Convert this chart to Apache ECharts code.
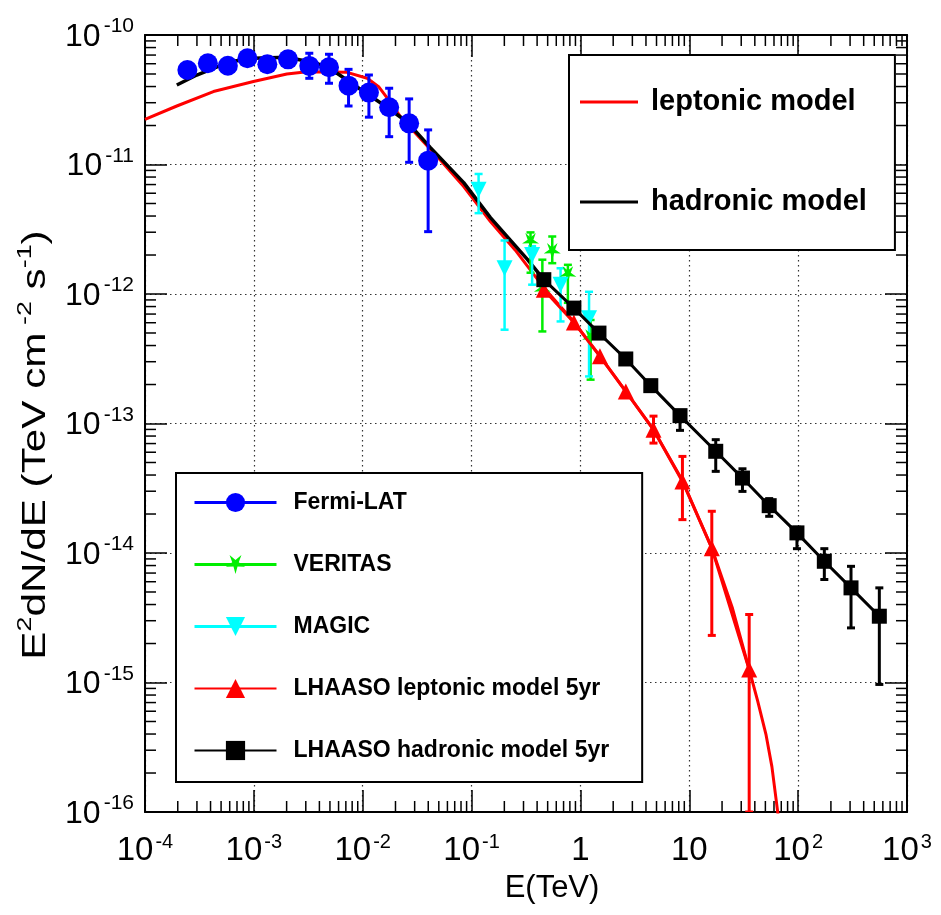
<!DOCTYPE html>
<html><head><meta charset="utf-8">
<script src="https://cdn.jsdelivr.net/npm/echarts/dist/echarts.min.js"></script>
<style>html,body{margin:0;padding:0;background:#fff}#c{width:941px;height:915px}</style>
</head><body><div id="c"></div>
<script>
// ---------------- data (E in TeV, E^2 dN/dE in TeV cm^-2 s^-1) ----------------
const fermiE  = [2.45e-4, 3.78e-4, 5.77e-4, 8.73e-4, 1.33e-3, 2.06e-3, 3.23e-3, 4.90e-3, 7.41e-3, 1.14e-2, 1.75e-2, 2.67e-2, 3.99e-2];
const fermiF  = [5.37e-11, 6.05e-11, 5.79e-11, 6.61e-11, 5.94e-11, 6.49e-11, 5.77e-11, 5.64e-11, 4.06e-11, 3.59e-11, 2.77e-11, 2.08e-11, 1.07e-11];
const fermiLo = [null, null, null, null, null, null, 4.63e-11, 4.24e-11, 2.83e-11, 2.32e-11, 1.64e-11, 1.04e-11, 3.03e-12];
const fermiHi = [null, null, null, null, null, null, 7.23e-11, 7.10e-11, 5.43e-11, 4.91e-11, 3.88e-11, 3.21e-11, 1.85e-11];

const veritasE  = [0.348, 0.447, 0.551, 0.767, 1.24];
const veritasF  = [2.54e-12, 1.08e-12, 2.13e-12, 1.41e-12, 4.6e-13];
const veritasLo = [1.46e-12, 5.14e-13, 1.73e-12, 8.55e-13, 2.18e-13];
const veritasHi = [2.99e-12, 1.84e-12, 2.78e-12, 1.68e-12, 6.3e-13];

const magicE  = [0.116, 0.201, 0.360, 0.657, 1.20];
const magicF  = [6.37e-12, 1.58e-12, 2.0e-12, 1.18e-12, 6.51e-13];
const magicLo = [4.21e-12, 5.30e-13, 1.18e-12, 6.14e-13, 2.31e-13];
const magicHi = [8.45e-12, 2.59e-12, 2.34e-12, 1.58e-12, 1.04e-12];

const lepE  = [0.461, 0.871, 1.51, 2.61, 4.69, 8.65, 16.1, 35.5];
const lepF  = [1.08e-12, 6.03e-13, 3.30e-13, 1.77e-13, 8.95e-14, 3.57e-14, 1.09e-14, 1.26e-15];
const lepLo = [null, null, null, null, 7.06e-14, 1.81e-14, 2.31e-15, 1.0e-16];
const lepHi = [null, null, null, null, 1.14e-13, 5.57e-14, 2.10e-14, 3.35e-15];

const hadE  = [0.461, 0.871, 1.48, 2.61, 4.43, 8.22, 17.5, 30.8, 54.2, 97.5, 174, 306, 557];
const hadF  = [1.29e-12, 7.78e-13, 4.99e-13, 3.15e-13, 1.96e-13, 1.15e-13, 6.10e-14, 3.79e-14, 2.32e-14, 1.43e-14, 8.63e-15, 5.38e-15, 3.25e-15];
const hadLo = [null, null, null, null, null, 8.85e-14, 4.27e-14, 2.99e-14, 1.92e-14, 1.08e-14, 6.24e-15, 2.64e-15, 9.66e-16];
const hadHi = [null, null, null, null, null, 1.26e-13, 7.50e-14, 4.47e-14, 2.63e-14, 1.58e-14, 1.08e-14, 7.89e-15, 5.38e-15];

const lepModelE = [1e-4, 1.96e-4, 4.25e-4, 9.91e-4, 2.01e-3, 3.08e-3, 7.18e-3, 1.10e-2, 1.40e-2, 1.73e-2, 2.22e-2, 3.16e-2, 5.18e-2, 8.47e-2, 0.149, 0.251, 0.461, 0.871, 1.514, 2.606, 4.69, 8.65, 16.1, 24.8, 35.5, 42.4, 50.6, 57.4, 64.7, 69.2];
const lepModelF = [2.23e-11, 2.83e-11, 3.66e-11, 4.37e-11, 5.00e-11, 5.21e-11, 5.15e-11, 4.63e-11, 3.99e-11, 3.15e-11, 2.34e-11, 1.69e-11, 1.08e-11, 6.76e-12, 3.63e-12, 2.19e-12, 1.12e-12, 6.10e-13, 3.31e-13, 1.77e-13, 8.95e-14, 3.63e-14, 1.09e-14, 3.80e-15, 1.26e-15, 7.24e-16, 3.98e-16, 2.24e-16, 1.02e-16, 6.3e-17];

const hadModelE = [1.96e-4, 2.99e-4, 6.05e-4, 9.91e-4, 2.01e-3, 3.80e-3, 5.81e-3, 1.02e-2, 1.56e-2, 2.55e-2, 4.19e-2, 8.47e-2, 0.149, 0.324, 0.461];
const hadModelF = [4.11e-11, 4.91e-11, 6.22e-11, 6.61e-11, 6.73e-11, 6.05e-11, 5.06e-11, 3.66e-11, 2.88e-11, 2.14e-11, 1.35e-11, 7.24e-12, 3.89e-12, 1.86e-12, 1.29e-12];

const legendNames = ['Fermi-LAT', 'VERITAS', 'MAGIC', 'LHAASO leptonic model 5yr', 'LHAASO hadronic model 5yr'];
const modelNames = ['leptonic model', 'hadronic model'];
const xTitle = 'E(TeV)';
const yTitle = 'E{s|2}dN/dE (TeV cm{s| -2} s{s|-1})';

// ---------------- helpers ----------------
const FONT = '"Liberation Sans", Arial, Helvetica, sans-serif';
const zip = (a, b) => a.map((v, i) => [v, b[i]]);
const errData = (e, lo, hi) => e.map((v, i) => [v, lo[i], hi[i]]).filter(d => d[1] != null && d[2] != null);

function errSeries(name, e, lo, hi, color, cap, lw) {
  return {
    type: 'custom', name: name, xAxisIndex: 0, yAxisIndex: 0, silent: true, z: 3, clip: true,
    data: errData(e, lo, hi), encode: { x: 0, y: [1, 2] },
    renderItem: function (params, api) {
      const x = api.value(0);
      const p1 = api.coord([x, api.value(2)]);
      const p2 = api.coord([x, api.value(1)]);
      const st = { stroke: color, lineWidth: lw };
      return { type: 'group', children: [
        { type: 'line', shape: { x1: p1[0], y1: p1[1], x2: p2[0], y2: p2[1] }, style: st },
        { type: 'line', shape: { x1: p1[0] - cap, y1: p1[1], x2: p1[0] + cap, y2: p1[1] }, style: st },
        { type: 'line', shape: { x1: p2[0] - cap, y1: p2[1], x2: p2[0] + cap, y2: p2[1] }, style: st }
      ] };
    }
  };
}

function powLabel(v) {
  const e = Math.round(Math.log10(v));
  if (e === 0) return '{b|1}';
  if (e === 1) return '{b|10}';
  return '{b|10}{s|' + e + '}';
}
const xRich = {
  b: { fontSize: 33, fontFamily: FONT, color: '#000', verticalAlign: 'bottom', lineHeight: 36 },
  s: { fontSize: 20, fontFamily: FONT, color: '#000', verticalAlign: 'bottom', lineHeight: 20, padding: [0, 0, 15, 2] }
};
const yRich = {
  b: { fontSize: 32, fontFamily: FONT, color: '#000', verticalAlign: 'bottom', lineHeight: 36 },
  s: { fontSize: 21, fontFamily: FONT, color: '#000', verticalAlign: 'bottom', lineHeight: 21, padding: [0, 0, 16, 3] }
};

// minor tick positions (axis decoration)
const minorX = [];
for (let n = -4; n < 3; n++) for (let k = 2; k < 10; k++) minorX.push([k * Math.pow(10, n), 1e-13]);
const minorY = [];
for (let n = -16; n < -10; n++) for (let k = 2; k < 10; k++) minorY.push([1e-2, k * Math.pow(10, n)]);
const TICK = { stroke: '#000', lineWidth: 1.5 };
const MINOR = 11;

const starPath = 'path://M50,100 L40,63.75 L2.45,65.45 L33.83,44.75 L20.6,9.55 L50,33 L79.4,9.55 L66.17,44.75 L97.55,65.45 L60,63.75 Z';

const chart = echarts.init(document.getElementById('c'), null, { renderer: 'canvas' });

const axisCommonX = {
  type: 'log', logBase: 10, min: 1e-4, max: 1e3, splitNumber: 7,
  axisLine: { show: true, onZero: false, lineStyle: { color: '#000', width: 2 } },
  axisTick: { show: true, inside: true, length: 22, lineStyle: { color: '#000', width: 1.5 } },
  minorTick: { show: false }, minorSplitLine: { show: false }
};
const axisCommonY = {
  type: 'log', logBase: 10, min: 1e-16, max: 1e-10, splitNumber: 6,
  axisLine: { show: true, onZero: false, lineStyle: { color: '#000', width: 2 } },
  axisTick: { show: true, inside: true, length: 22, lineStyle: { color: '#000', width: 1.5 } },
  minorTick: { show: false }, minorSplitLine: { show: false }
};
const gridDots = { show: true, lineStyle: { color: '#333', width: 1.2, type: [1.5, 3.5] } };

const option = {
  animation: false,
  backgroundColor: '#fff',
  grid: { left: 145, right: 34, top: 35, bottom: 103, containLabel: false, outerBoundsMode: 'none' },
  graphic: [{
    type: 'text', x: 36, y: 445, rotation: Math.PI / 2, scaleX: 1.28, silent: true,
    style: {
      text: yTitle, align: 'center', verticalAlign: 'middle',
      fontSize: 33, fontFamily: FONT, fill: '#000',
      rich: { s: { fontSize: 21, fontFamily: FONT, fill: '#000', verticalAlign: 'bottom', lineHeight: 21, padding: [0, 0, 17, 0] } }
    }
  }],
  xAxis: [
    Object.assign({}, axisCommonX, {
      position: 'bottom', splitLine: gridDots,
      axisLabel: { formatter: powLabel, margin: 19, rich: xRich, showMinLabel: true, showMaxLabel: true },
      name: xTitle, nameLocation: 'middle', nameGap: 61,
      nameTextStyle: { fontSize: 31, fontFamily: FONT, color: '#000', padding: [0, 0, 0, 52] }
    }),
    Object.assign({}, axisCommonX, { position: 'top', splitLine: { show: false }, axisLabel: { show: false } })
  ],
  yAxis: [
    Object.assign({}, axisCommonY, {
      position: 'left', splitLine: gridDots,
      axisLabel: { formatter: powLabel, margin: 11, rich: yRich, showMinLabel: true, showMaxLabel: true }
    }),
    Object.assign({}, axisCommonY, { position: 'right', splitLine: { show: false }, axisLabel: { show: false } })
  ],
  legend: [
    {
      orient: 'vertical', left: 176, top: 473, padding: [18, 33, 20, 17],
      itemWidth: 82, itemHeight: 24, itemGap: 39,
      borderColor: '#000', borderWidth: 2, backgroundColor: '#fff', selectedMode: false,
      textStyle: { fontSize: 23, fontWeight: 'bold', fontFamily: FONT, color: '#000', padding: [0, 0, 0, 12], lineHeight: 22 },
      data: [
        { name: legendNames[0], lineStyle: { width: 3, color: '#0000ff', opacity: 1 } },
        { name: legendNames[1], lineStyle: { width: 3, color: '#00ee00', opacity: 1 } },
        { name: legendNames[2], lineStyle: { width: 3, color: '#00ffff', opacity: 1 } },
        { name: legendNames[3] },
        { name: legendNames[4] }
      ]
    },
    {
      orient: 'vertical', left: 569, top: 55, padding: [32, 28, 33, 11],
      itemWidth: 58, itemHeight: 3, itemGap: 70, icon: 'rect',
      borderColor: '#000', borderWidth: 2, backgroundColor: '#fff', selectedMode: false,
      textStyle: { fontSize: 29, fontWeight: 'bold', fontFamily: FONT, color: '#000', padding: [0, 0, 0, 8], lineHeight: 30 },
      data: modelNames
    }
  ],
  series: [
    {
      type: 'custom', name: 'minorX', silent: true, z: 10, data: minorX, encode: { x: 0, y: 1 },
      renderItem: function (params, api) {
        const p = api.coord([api.value(0), api.value(1)]);
        const cs = params.coordSys;
        return { type: 'group', children: [
          { type: 'line', shape: { x1: p[0], y1: cs.y + cs.height, x2: p[0], y2: cs.y + cs.height - MINOR }, style: TICK },
          { type: 'line', shape: { x1: p[0], y1: cs.y, x2: p[0], y2: cs.y + MINOR }, style: TICK }
        ] };
      }
    },
    {
      type: 'custom', name: 'minorY', silent: true, z: 10, data: minorY, encode: { x: 0, y: 1 },
      renderItem: function (params, api) {
        const p = api.coord([api.value(0), api.value(1)]);
        const cs = params.coordSys;
        return { type: 'group', children: [
          { type: 'line', shape: { x1: cs.x, y1: p[1], x2: cs.x + MINOR, y2: p[1] }, style: TICK },
          { type: 'line', shape: { x1: cs.x + cs.width, y1: p[1], x2: cs.x + cs.width - MINOR, y2: p[1] }, style: TICK }
        ] };
      }
    },
    {
      type: 'line', name: modelNames[0], data: zip(lepModelE, lepModelF), symbol: 'none', z: 2,
      color: '#ff0000', lineStyle: { color: '#ff0000', width: 3 }, clip: true
    },
    {
      type: 'line', name: modelNames[1], data: zip(hadModelE, hadModelF), symbol: 'none', z: 2,
      color: '#000000', lineStyle: { color: '#000000', width: 3.5 }, clip: true
    },
    errSeries('errFermi', fermiE, fermiLo, fermiHi, '#0000ff', 4, 3),
    errSeries('errVeritas', veritasE, veritasLo, veritasHi, '#00ee00', 4, 2.5),
    errSeries('errMagic', magicE, magicLo, magicHi, '#00ffff', 4, 2.5),
    errSeries('errLep', lepE, lepLo, lepHi, '#ff0000', 4, 3),
    errSeries('errHad', hadE, hadLo, hadHi, '#000000', 4, 3),
    {
      type: 'line', name: legendNames[0], data: zip(fermiE, fermiF), symbol: 'circle', symbolSize: 20, z: 5,
      color: '#0000ff', itemStyle: { color: '#0000ff' }, lineStyle: { width: 0 }
    },
    {
      type: 'line', name: legendNames[1], data: zip(veritasE, veritasF), symbol: starPath, symbolSize: 17, z: 5,
      color: '#00ee00', itemStyle: { color: '#00ee00' }, lineStyle: { width: 0 }
    },
    {
      type: 'line', name: legendNames[2], data: zip(magicE, magicF), symbol: 'triangle', symbolRotate: 180, symbolSize: 16, z: 5,
      color: '#00ffff', itemStyle: { color: '#00ffff' }, lineStyle: { width: 0 }
    },
    {
      type: 'line', name: legendNames[3], data: zip(lepE, lepF), symbol: 'triangle', symbolSize: 16, z: 6,
      color: '#ff0000', itemStyle: { color: '#ff0000' }, lineStyle: { color: '#ff0000', width: 3 }
    },
    {
      type: 'line', name: legendNames[4], data: zip(hadE, hadF), symbol: 'rect', symbolSize: 15, z: 7,
      color: '#000000', itemStyle: { color: '#000000' }, lineStyle: { color: '#000000', width: 3 }
    }
  ]
};
chart.setOption(option);
</script>
</body></html>
